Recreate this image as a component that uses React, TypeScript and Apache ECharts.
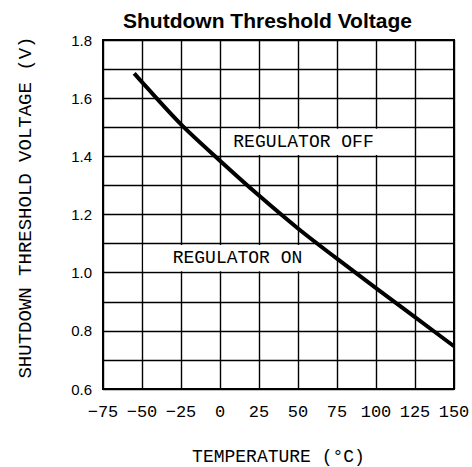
import React, { useEffect, useRef } from "react";
import * as echarts from "echarts";

const temperatures = [-55, -50, -25, 0, 25, 50, 75, 100, 125, 150];
const thresholdVoltage = [1.685, 1.655, 1.51, 1.385, 1.265, 1.152, 1.048, 0.947, 0.847, 0.747];

const xTicks = { min: -75, max: 150, interval: 25 };
const yTicks = { min: 0.6, max: 1.8, interval: 0.1 };

const regionLabels = ["REGULATOR OFF", "REGULATOR ON"];
const regionX = [[0, 125], [-50, 75]];
const regionY = [[1.4, 1.5], [1.0, 1.1]];

const ISO = "'Liberation Mono', 'DejaVu Sans Mono', monospace";

export default function App() {
  const ref = useRef<HTMLDivElement>(null);
  useEffect(() => {
    document.body.style.margin = "0";
    const chart = echarts.init(ref.current!, null, { renderer: "svg" });
    const ex = 0.9;
    const ey = 0.005;
    const offsets = [[-14, 0], [-2, 0]];
    chart.setOption({
      animation: false,
      backgroundColor: "#fff",
      title: {
        text: "Shutdown Threshold Voltage",
        left: 118,
        top: 5,
        textStyle: { fontFamily: "'Liberation Sans', Arial", fontWeight: "bold", fontSize: 21, color: "#000" },
      },
      grid: {
        left: 103,
        right: 18,
        top: 40,
        bottom: 78,
        containLabel: false,
        outerBoundsMode: "none",
        show: true,
        borderColor: "#000",
        borderWidth: 2,
        backgroundColor: "transparent",
      },
      xAxis: {
        type: "value",
        min: xTicks.min,
        max: xTicks.max,
        interval: xTicks.interval,
        name: "TEMPERATURE (°C)",
        nameLocation: "middle",
        nameGap: 59,
        nameTextStyle: { fontFamily: ISO, fontSize: 18, color: "#000" },
        axisLine: { show: false },
        axisTick: { show: false },
        axisLabel: { margin: 15, fontFamily: ISO, fontSize: 17, color: "#000", formatter: (v: number) => String(v).replace("-", "\u2212") },
        splitLine: { show: true, lineStyle: { color: "#000", width: 1.4 } },
      },
      yAxis: {
        type: "value",
        min: yTicks.min,
        max: yTicks.max,
        interval: yTicks.interval,
        name: "SHUTDOWN THRESHOLD VOLTAGE (V)",
        nameLocation: "middle",
        nameRotate: 90,
        nameGap: 68,
        nameTextStyle: { fontFamily: ISO, fontSize: 19, color: "#000", padding: [0, 0, 0, 14] },
        axisLine: { show: false },
        axisTick: { show: false },
        axisLabel: {
          margin: 11,
          fontFamily: "'Liberation Sans', Arial",
          fontSize: 15,
          color: "#000",
          formatter: (v: number) => (Math.round(v * 10) % 2 === 0 ? v.toFixed(1) : ""),
        },
        splitLine: { show: true, lineStyle: { color: "#000", width: 1.4 } },
      },
      series: [
        {
          type: "line",
          z: 3,
          data: temperatures.map((t, i) => [t, thresholdVoltage[i]]),
          smooth: 0.3,
          showSymbol: false,
          lineStyle: { color: "#000", width: 4 },
          markArea: {
            silent: true,
            z: 1,
            itemStyle: { color: "#fff", borderWidth: 0 },
            data: regionLabels.map((name, i) => [
              {
                name,
                xAxis: regionX[i][0] + ex,
                yAxis: regionY[i][0] + ey,
                label: {
                  show: true,
                  position: "inside",
                  offset: offsets[i],
                  fontFamily: ISO,
                  fontSize: 18,
                  color: "#000",
                },
              },
              { xAxis: regionX[i][1] - ex, yAxis: regionY[i][1] - ey },
            ]),
          },
        },
      ],
    });
    return () => chart.dispose();
  }, []);
  return <div ref={ref} style={{ width: 472, height: 467 }} />;
}
